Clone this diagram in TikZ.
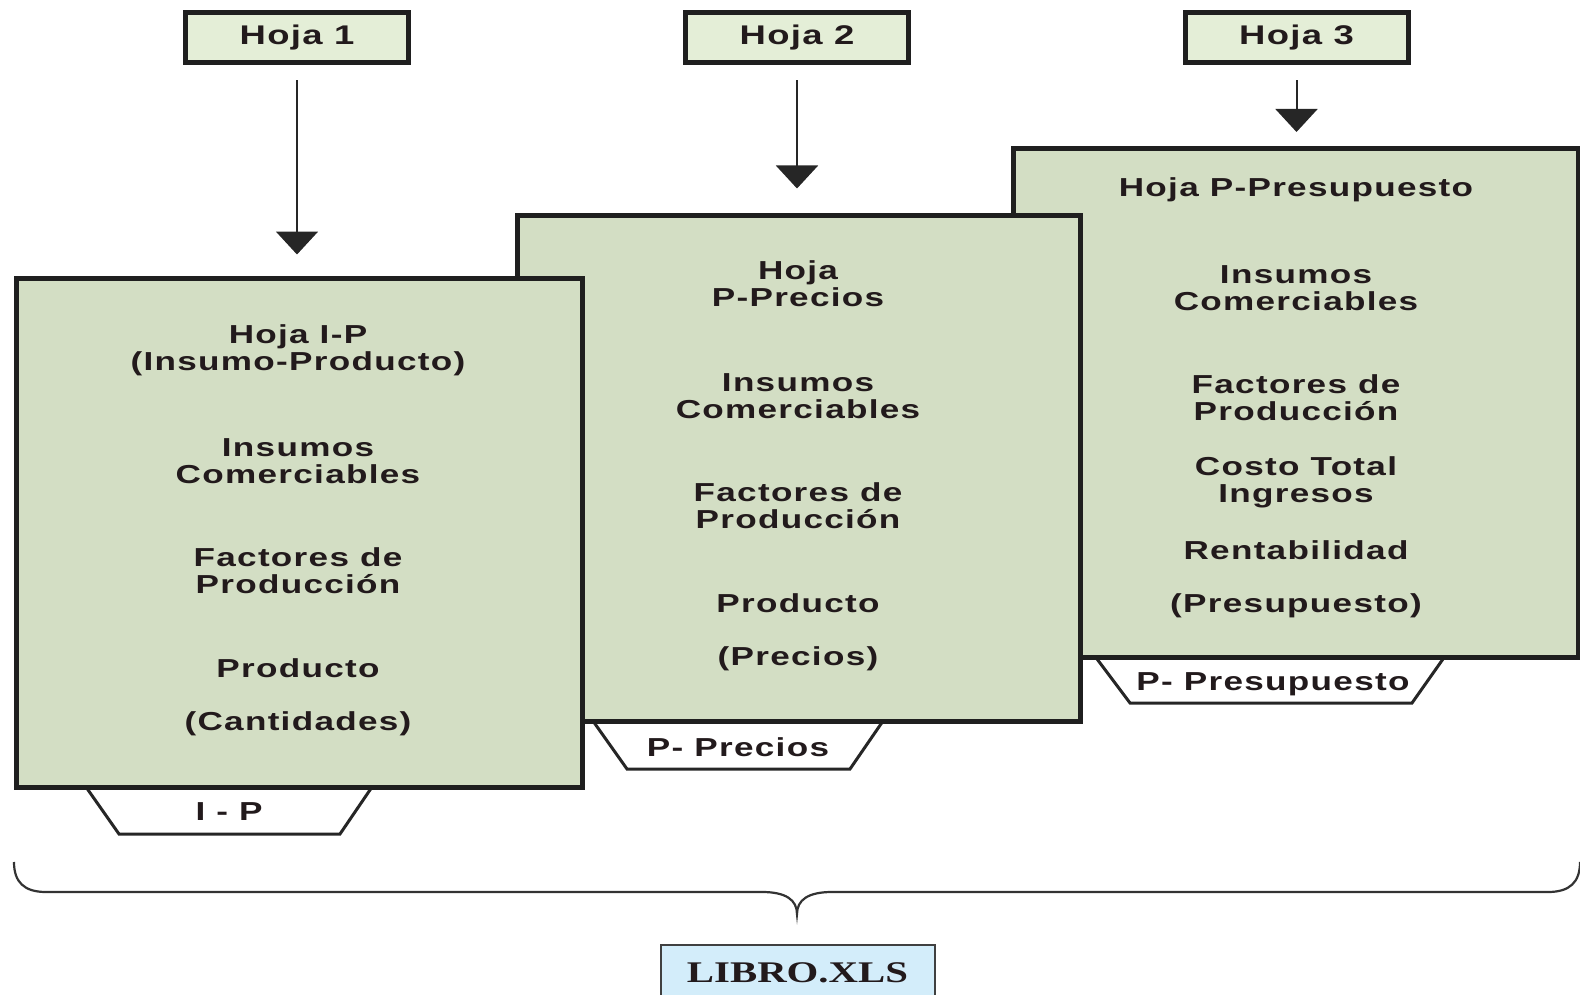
\documentclass[tikz,border=0pt]{standalone}
\usepackage{fontspec}
\usetikzlibrary{arrows.meta}
\newfontfamily\labfont[FakeStretch=1.35,LetterSpace=5.0]{Liberation Sans}
\newfontfamily\libfont[FakeStretch=1.36]{Liberation Serif}
\definecolor{boxfill}{HTML}{D3DEC4}
\definecolor{headfill}{HTML}{E4EED7}
\definecolor{librofill}{HTML}{D3EDFA}
\definecolor{txt}{HTML}{221A1C}
\begin{document}
\begin{tikzpicture}[x=0.5pt,y=-0.5pt,
  lab/.style={text=txt,align=center,inner sep=0pt,font=\labfont\bfseries\fontsize{13}{13.5}\selectfont},
  sheet/.style={draw=black!88,line width=2.5pt,fill=boxfill,inner sep=0pt},
  head/.style={draw=black!88,line width=2.5pt,fill=headfill,minimum width=111.5pt,minimum height=25pt,inner sep=0pt,text=txt,font=\labfont\bfseries\fontsize{13.5}{14}\selectfont},
  tabline/.style={draw=black!85,line width=1.5pt,fill=white,line join=miter},
  arr/.style={draw=black!85,line width=1pt,-{Triangle[width=21pt,length=11.5pt]}},
  bracepath/.style={draw=black!80,line width=1.1pt}]
\useasboundingbox (0,0) rectangle (1580,995);

% headers
\node[head] (h1) at (297,38) {Hoja 1};
\node[head] (h2) at (797,38) {Hoja 2};
\node[head] (h3) at (1296.5,38) {Hoja 3};

% sheet 3
\path[tabline] (1097,659) -- (1130,703) -- (1412,703) -- (1443,659);
\node[lab] (t3) at (1273,684) {P- Presupuesto};
\node[sheet,minimum width=282.5pt,minimum height=254.5pt] (b3) at (1295.5,403) {};
\node[lab] (s3a) at (1296,190) {Hoja P-Presupuesto};
\node[lab] (s3b) at (1296,288) {Insumos\\Comerciables};
\node[lab] (s3c) at (1296,398) {Factores de\\Producción};
\node[lab] (s3d) at (1296,482.5) {Costo Total\\Ingresos};
\node[lab] (s3e) at (1296,550.5) {Rentabilidad};
\node[lab] (s3f) at (1296,606) {(Presupuesto)};

% sheet 2
\path[tabline] (593,721) -- (627,769) -- (850,769) -- (883,721);
\node[lab] (t2) at (738,747) {P- Precios};
\node[sheet,minimum width=281.5pt,minimum height=253pt] (b2) at (798.5,468) {};
\node[lab] (s2a) at (798,284) {Hoja\\P-Precios};
\node[lab] (s2b) at (798,396) {Insumos\\Comerciables};
\node[lab] (s2c) at (798,506) {Factores de\\Producción};
\node[lab] (s2d) at (798,603.5) {Producto};
\node[lab] (s2e) at (798,659) {(Precios)};

% sheet 1
\path[tabline] (86,787) -- (119,834) -- (340,834) -- (372,787);
\node[lab] (t1) at (229,812) {I - P};
\node[sheet,minimum width=283pt,minimum height=254.5pt] (b1) at (299,532.5) {};
\node[lab] (s1a) at (298,350.5) {Hoja I-P\\(Insumo-Producto)};
\node[lab] (s1b) at (298,461.5) {Insumos\\Comerciables};
\node[lab] (s1c) at (298,571) {Factores de\\Producción};
\node[lab] (s1d) at (298,668.5) {Producto};
\node[lab] (s1e) at (298,724) {(Cantidades)};

% arrows
\draw[arr,shorten <=7.5pt,shorten >=10.5pt] (h1.south) -- (h1.south |- b1.north);
\draw[arr,shorten <=7.5pt,shorten >=12pt] (h2.south) -- (h2.south |- b2.north);
\draw[arr,shorten <=7.5pt,shorten >=7pt] (h3.south) -- (h3.south |- b3.north);

% brace
\path[bracepath] (14,862) .. controls (14,882) and (24,892) .. (46,892)
  -- (762,892) .. controls (786,892) and (797,900) .. (797,914)
  .. controls (797,900) and (808,892) .. (832,892)
  -- (1548,892) .. controls (1570,892) and (1580,882) .. (1580,862);

% book
\node[draw=black!75,line width=1pt,fill=librofill,minimum width=137pt,minimum height=30pt,inner sep=0pt,text=txt,font=\libfont\bfseries\fontsize{15}{16}\selectfont] (libro) at (797.5,975) {\raisebox{2pt}{LIBRO.XLS}};
\end{tikzpicture}
\end{document}
